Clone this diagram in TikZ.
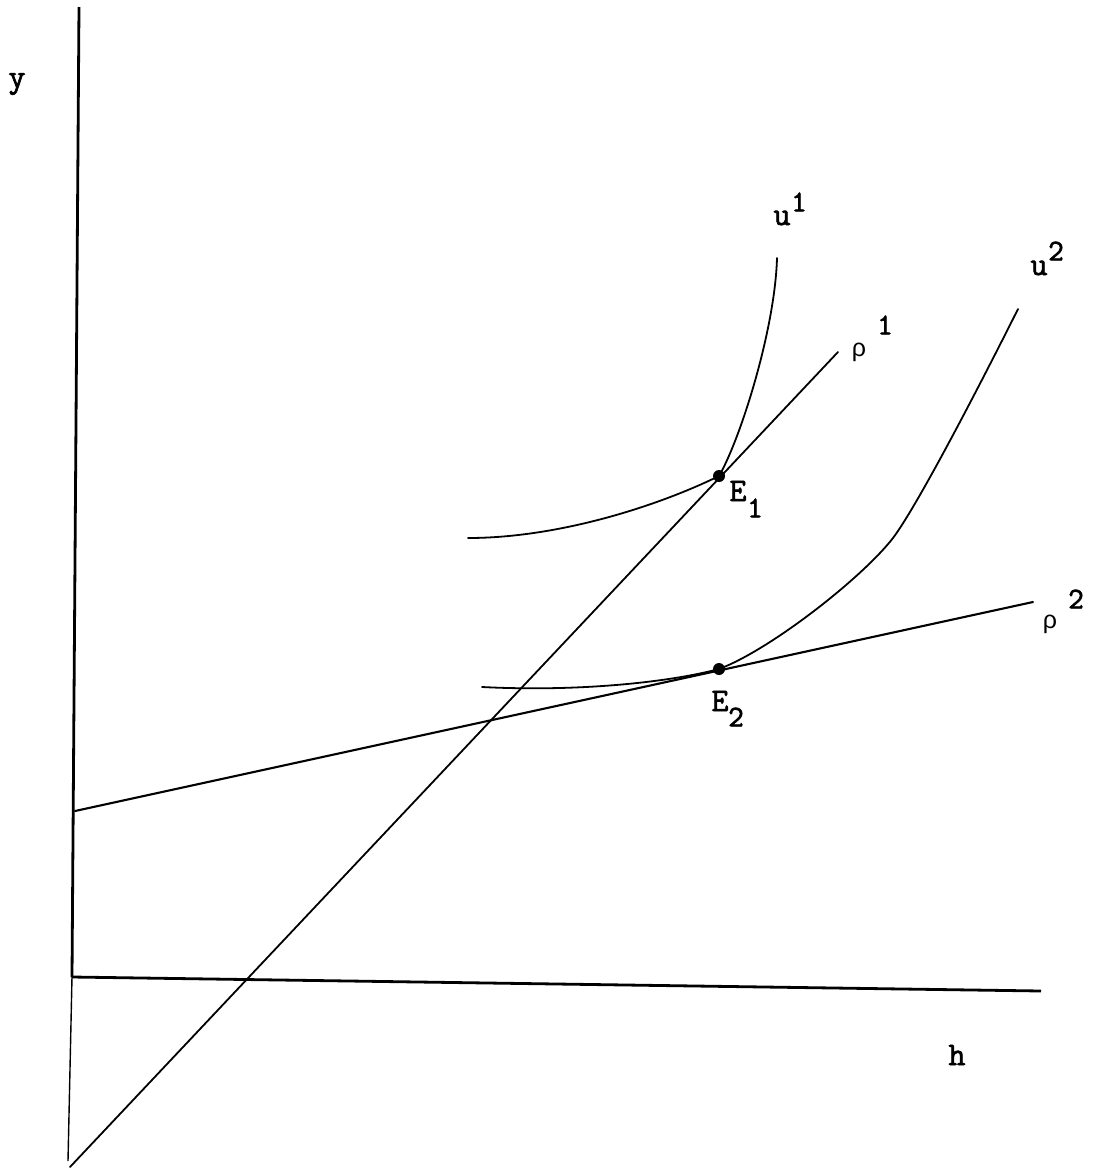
\documentclass[tikz,border=0pt]{standalone}
\usepackage{fontspec}
\newfontfamily\greekfont{Liberation Sans}
\newfontfamily\typefont[AutoFakeBold=2.2]{Latin Modern Mono}
\begin{document}
\begin{tikzpicture}[x=1pt,y=-1pt,
  axis/.style={line width=2.8pt},
  thinaxis/.style={line width=1.4pt},
  curve/.style={line width=1.8pt, line cap=round},
  lbl/.style={inner sep=0pt, font=\typefont\bfseries\fontsize{33}{35}\selectfont},
  idx/.style={inner sep=0pt, font=\typefont\bfseries\fontsize{30}{32}\selectfont},
  grk/.style={inner sep=0pt, font=\greekfont\fontsize{25}{27}\selectfont},
  eq/.style={circle, fill=black, inner sep=0pt, minimum size=12pt}]
\useasboundingbox (0,0) rectangle (1093,1168);
% axes
\coordinate (ytop) at (79,7);
\coordinate (orig) at (72,977);
\coordinate (ybot) at (68,1161);
\coordinate (hend) at (1041,991);
\draw[axis] (ytop) -- (orig);
\draw[thinaxis] (orig) -- (ybot);
\draw[axis] (orig) -- (hend);
% rho lines
\coordinate (r1a) at (70,1167);
\coordinate (r1b) at (838,352);
\coordinate (r2a) at (75,811);
\coordinate (r2b) at (1033,602);
\draw[curve] (r1a) -- (r1b);
\draw[curve, line width=2.1pt] (r2a) -- (r2b);
% equilibria
\node[eq] (E1) at (719,476) {};
\node[eq] (E2) at (719,669) {};
% indifference curves
\coordinate (u1a) at (468,538);
\coordinate (u1b) at (777,258);
\coordinate (u2a) at (482,687);
\coordinate (u2m) at (893,538);
\coordinate (u2b) at (1018,309);
\draw[curve] (u1a) .. controls (560,538) and (660,505) .. (E1.center)
             .. controls (740,440) and (775,330) .. (u1b);
\draw[curve] (u2a) .. controls (580,692) and (670,682) .. (E2.center)
             .. controls (770,650) and (862,578) .. (u2m)
             .. controls (920,502) and (990,365) .. (u2b);
% labels
\node[lbl] (ylab) at (17,84) {y};
\node[lbl] (hlab) at (957,1055) {h};
\node[lbl] (u1) at (782,218) {u};
\node[idx] (u1s) at (799,202) {1};
\node[lbl] (u2) at (1039,268) {u};
\node[idx] (u2s) at (1056,251) {2};
\node[grk] (p1) at (859,352) {ρ};
\node[idx] (p1s) at (885,325) {1};
\node[grk] (p2) at (1050,624) {ρ};
\node[idx] (p2s) at (1076,599) {2};
\node[lbl] (E1l) at (738,491) {E};
\node[idx] (E1s) at (755,508) {1};
\node[lbl] (E2l) at (720,701) {E};
\node[idx] (E2s) at (736,717) {2};
\end{tikzpicture}
\end{document}
